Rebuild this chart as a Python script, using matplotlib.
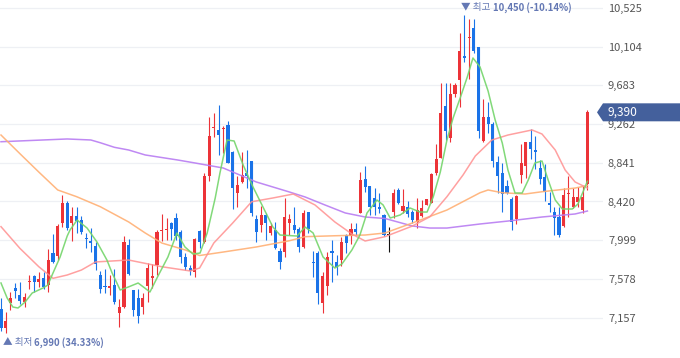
import matplotlib
matplotlib.use("Agg")
import matplotlib.pyplot as plt
from matplotlib.patches import Polygon

plt.rcParams['font.family'] = ['Noto Sans CJK KR', 'DejaVu Sans']

# daily OHLC, oldest first
opens = [7250, 7040, 7310, 7480, 7400, 7330, 7540, 7610, 7540, 7590,
         7510, 7860, 7830, 8190, 8400, 8190, 8260, 8220, 8020, 7990,
         7940, 7620, 7500, 7480, 7510, 7210, 7270, 7950, 7460, 7370,
         7270, 7500, 7590, 7730, 8100, 8110, 8190, 8240, 8090, 7820,
         7700, 7650, 8100, 7980, 8700, 9220, 9200, 9210, 9250, 8960,
         8510, 8630, 8730, 8860, 8230, 8160, 8270, 8080, 8110, 7880,
         7870, 8190, 8160, 8120, 7920, 8310, 7760, 7860, 7310, 7500,
         7880, 7760, 7780, 8060, 8040, 8120, 8290, 8660, 8590, 8460,
         8360, 8270, 8060, 8310, 8540, 8320, 8360, 8310, 8200, 8260,
         8380, 8400, 8730, 8890, 9460, 9110, 9590, 9740, 10000, 10200,
         10310, 10100, 9080, 9340, 9260, 8850, 8730, 8590, 8450, 8230,
         8710, 8810, 9070, 8980, 8780, 8690, 8400, 8310, 8250, 8150,
         8500, 8360, 8410, 8330, 8610]
highs = [7370, 7220, 7430, 7530, 7540, 7420, 7620, 7620, 7650, 7650,
         7900, 8070, 8170, 8490, 8420, 8360, 8360, 8260, 8080, 8130,
         7980, 7660, 7690, 7620, 7690, 7360, 8040, 8010, 7460, 7470,
         7420, 7750, 7740, 8110, 8280, 8240, 8200, 8290, 8110, 7860,
         7730, 8020, 8110, 8730, 9340, 9380, 9470, 9240, 9300, 8970,
         8700, 8960, 8980, 8860, 8270, 8370, 8290, 8190, 8200, 7910,
         8460, 8280, 8360, 8140, 8330, 8310, 7880, 7880, 7650, 7870,
         8000, 7840, 8030, 8070, 8190, 8190, 8740, 8810, 8590, 8570,
         8510, 8280, 8140, 8560, 8570, 8560, 8420, 8330, 8460, 8440,
         8450, 8730, 9050, 9710, 9710, 9710, 9710, 10250, 10450, 10400,
         10400, 10100, 9540, 9500, 9280, 8910, 8840, 8650, 8470, 8490,
         9050, 9070, 9210, 9130, 8870, 8830, 8520, 8360, 8360, 8570,
         8700, 8570, 8580, 8590, 9420]
lows = [7010, 6990, 7240, 7370, 7300, 7270, 7470, 7430, 7490, 7470,
        7430, 7750, 7780, 8140, 8110, 7990, 8080, 8070, 7910, 7870,
        7670, 7420, 7420, 7400, 7300, 7050, 7260, 7620, 7170, 7100,
        7200, 7330, 7480, 7620, 7990, 8000, 8000, 8000, 7750, 7670,
        7620, 7600, 7910, 7970, 8640, 9120, 8930, 8950, 8840, 8340,
        8360, 8620, 8570, 8260, 7980, 8090, 8000, 8060, 7900, 7690,
        7820, 8060, 8080, 7870, 7910, 8080, 7600, 7300, 7210, 7400,
        7540, 7620, 7720, 7860, 7960, 8060, 8290, 8520, 8270, 8270,
        8290, 8040, 7870, 8240, 8390, 8290, 8250, 8190, 8130, 8250,
        8380, 8400, 8710, 8890, 9090, 9070, 9560, 9450, 9940, 9750,
        10030, 9110, 9070, 9160, 8800, 8510, 8310, 8500, 8110, 8170,
        8620, 8670, 8880, 8770, 8610, 8420, 8310, 8060, 8030, 8140,
        8250, 8350, 8360, 8290, 8540]
closes = [7040, 7120, 7370, 7450, 7340, 7380, 7560, 7540, 7580, 7490,
          7780, 7760, 8150, 8400, 8130, 8260, 8210, 8090, 8010, 7970,
          7740, 7470, 7490, 7500, 7330, 7270, 7980, 7630, 7240, 7170,
          7370, 7700, 7610, 8090, 8110, 8120, 8120, 8040, 7820, 7710,
          7660, 8010, 7980, 8700, 9130, 9230, 9140, 9220, 8840, 8570,
          8600, 8710, 8700, 8290, 8090, 8270, 8190, 8150, 7910, 7760,
          8250, 8230, 8110, 7920, 8290, 8120, 7750, 7420, 7610, 7820,
          7860, 7710, 7980, 7970, 8120, 8090, 8650, 8580, 8360, 8360,
          8340, 8060, 8060, 8510, 8400, 8370, 8280, 8220, 8330, 8350,
          8450, 8720, 8880, 9380, 9190, 9590, 9690, 10060, 9980, 10210,
          10060, 9190, 9340, 9260, 8860, 8700, 8500, 8510, 8200, 8480,
          8840, 9070, 8990, 8960, 8660, 8520, 8380, 8240, 8060, 8490,
          8510, 8470, 8470, 8470, 9390]

# moving averages (day index, price)
ma5_x = [0, 1.3, 2.5, 3.6, 5.1, 6.6, 8.9, 9.9, 11, 12.5, 14, 14.6, 16.1, 18.2,
         20.3, 22.4, 23.5, 25.2, 26.9, 29, 31.5, 33.2, 35.3, 37.2, 38.9, 40.6,
         42.1, 43.6, 45.3, 46.3, 47.8, 49.3, 51.2, 53.3, 55.4, 57.5, 59, 62.6,
         64.3, 66, 68.1, 70.6, 72.1, 74.2, 75.9, 77.4, 79.5, 80.8, 82.3, 84.4,
         86.5, 88.6, 90.1, 91.4, 92.9, 94.3, 95.6, 97.1, 98.6, 99.8, 101.3, 103,
         104.5, 106, 107.2, 108.7, 110.2, 111.5, 112.9, 114.4, 115.7, 117.2,
         118.7, 120.8, 122, 124]
ma5_y = [7533, 7370, 7272, 7261, 7326, 7424, 7479, 7511, 7642, 7816, 8044, 8110,
         8218, 8131, 7979, 7783, 7642, 7457, 7489, 7533, 7435, 7609, 7816, 8077,
         7925, 7848, 7859, 8077, 8458, 8730, 9089, 9078, 8817, 8577, 8360, 8142,
         8055, 8044, 8142, 8077, 7816, 7696, 7740, 7892, 8055, 8295, 8436, 8382,
         8240, 8273, 8349, 8305, 8305, 8469, 8741, 9089, 9328, 9546, 9774, 9981,
         9883, 9622, 9306, 9056, 8762, 8512, 8512, 8654, 8839, 8860, 8654, 8436,
         8338, 8338, 8392, 8640]
ma20_x = [0, 4, 8, 11, 14, 17, 20, 27, 34, 40, 42, 45, 49, 53, 57.5, 61.8, 66.4,
          70.6, 74.2, 77, 81.2, 87, 90.7, 94.3, 97.7, 100.3, 103.8, 107.2, 112.3,
          114.4, 117.2, 119.3, 121.4, 124]
ma20_y = [8146, 7910, 7710, 7584, 7620, 7674, 7762, 7783, 7710, 7664, 7696, 7968,
          8186, 8417, 8458, 8501, 8382, 8197, 8066, 7990, 8037, 8153, 8254, 8472,
          8708, 8915, 9089, 9143, 9198, 9154, 8980, 8762, 8632, 8567]
ma60_x = [0, 4, 8, 12, 16, 21, 27, 30.5, 34, 39, 42, 47, 54, 61, 64.3, 70.6,
          77, 81.2, 87, 94.3, 101.3, 103, 106, 110.8, 114.4, 121.4, 124]
ma60_y = [9143, 8940, 8740, 8545, 8472, 8363, 8197, 8077, 7968, 7892, 7832,
          7870, 7925, 7993, 8037, 8047, 8055, 8077, 8186, 8327, 8515, 8545, 8515,
          8501, 8526, 8566, 8593]
ma120_x = [0, 14, 19, 21, 24, 27, 30.5, 37.4, 41, 47, 50.5, 54, 61, 64.3, 68.5,
           72.8, 77, 81.2, 87, 90.7, 94.3, 101.3, 107.2, 114.4, 121.4, 124]
ma120_y = [9070, 9100, 9089, 9059, 9009, 8980, 8926, 8871, 8839, 8784, 8708, 8632,
           8523, 8469, 8382, 8295, 8251, 8235, 8153, 8131, 8131, 8175, 8207, 8251,
           8284, 8316]

y_ticks = [7157, 7578, 7999, 8420, 8841, 9262, 9683, 10104, 10525]
last_price = 9390
hi_idx, hi_price, hi_txt = 98, 10450, "10,450 (-10.14%)"
lo_idx, lo_price, lo_txt = 1, 6990, "6,990 (34.33%)"

UP, DOWN, FLAT = "#ec3338", "#1a73e8", "#111111"
MA_COLS = {"ma5": "#74d56b", "ma20": "#ff9090", "ma60": "#ffb074", "ma120": "#b87cf2"}
NOTE = "#6478b4"

fig = plt.figure(figsize=(6.8, 3.58), dpi=100)
ax = fig.add_axes([0, 0, 603 / 680, 1])
ax.set_xlim(-0.21, 127.3)
ax.set_ylim(6717, 10612)

for t in y_ticks:
    ax.axhline(t, color="#eef0f4", lw=0.9, zorder=0)

# candles
for i, (o, h, l, c) in enumerate(zip(opens, highs, lows, closes)):
    col = UP if c > o else (DOWN if c < o else FLAT)
    ax.vlines(i, l, h, color=col, lw=0.8, zorder=2)
    body = max(abs(c - o), 12)
    ax.bar(i, body, bottom=min(o, c) - (6 if c == o else 0), width=0.66,
           color=col, lw=0, zorder=3)

ax.plot(ma120_x, ma120_y, color=MA_COLS["ma120"], lw=1.1, alpha=0.9, zorder=4)
ax.plot(ma60_x, ma60_y, color=MA_COLS["ma60"], lw=1.1, alpha=0.9, zorder=4)
ax.plot(ma20_x, ma20_y, color=MA_COLS["ma20"], lw=1.1, alpha=0.85, zorder=4)
ax.plot(ma5_x, ma5_y, color=MA_COLS["ma5"], lw=1.1, alpha=0.9, zorder=5)

ax.yaxis.tick_right()
ax.set_yticks(y_ticks)
ax.set_yticklabels([f"{t:,}" for t in y_ticks])
ax.tick_params(axis="y", length=0, pad=3.6, labelsize=8, labelcolor="#555555")
ax.set_xticks([])
for s in ax.spines.values():
    s.set_visible(False)

# high / low notes
t1 = ax.annotate("▼ 최고 ", xy=(hi_idx, hi_price), xytext=(-3, 7),
                 textcoords="offset pixels", ha="left", va="center",
                 fontsize=6.9, color=NOTE, zorder=8)
ax.annotate(hi_txt, xy=(1, 0.5), xycoords=t1, ha="left", va="center",
            fontsize=6.9, color=NOTE, fontweight="bold", zorder=8)
t2 = ax.annotate("▲ 최저 ", xy=(lo_idx, lo_price), xytext=(-3, -10),
                 textcoords="offset pixels", ha="left", va="center",
                 fontsize=6.9, color=NOTE, zorder=8)
ax.annotate(lo_txt, xy=(1, 0.5), xycoords=t2, ha="left", va="center",
            fontsize=6.9, color=NOTE, fontweight="bold", zorder=8)

# current price tag
yd = ax.transData.transform((0, last_price))[1]
pts = [(597, yd), (603, yd + 9), (680, yd + 9), (680, yd - 9), (603, yd - 9)]
pts = fig.transFigure.inverted().transform(pts)
fig.patches.append(Polygon(pts, closed=True, transform=fig.transFigure,
                           fc="#44609c", ec="none", zorder=10))
fig.text(608 / 680, pts[0][1], f"{last_price:,}", color="white", fontsize=8.6,
         ha="left", va="center", zorder=11)

fig.savefig("out.png", dpi=100)
